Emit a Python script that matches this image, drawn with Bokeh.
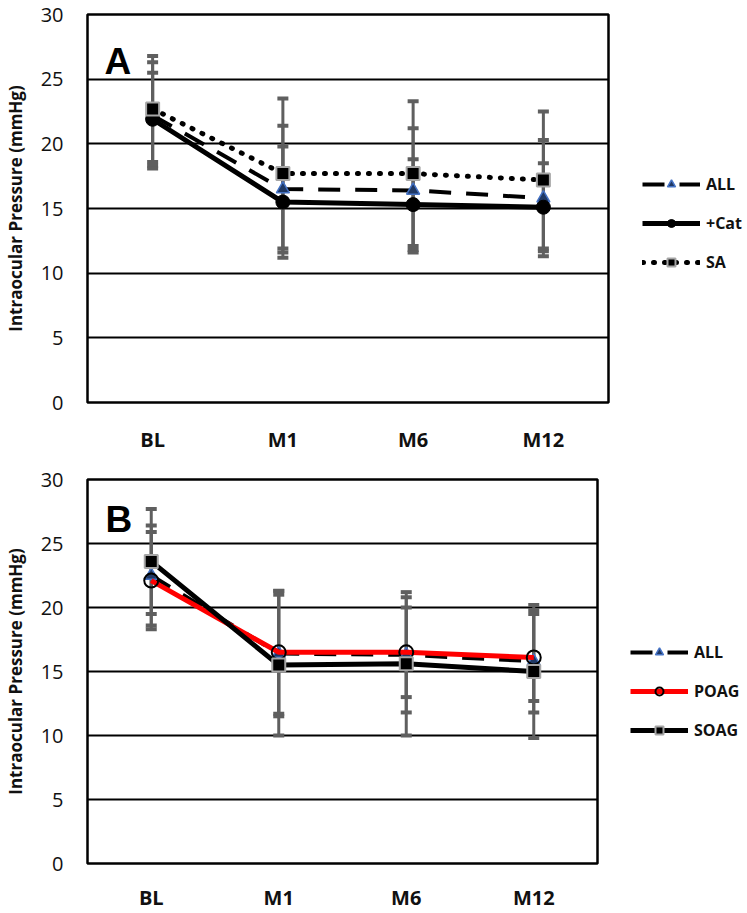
from bokeh.plotting import figure
from bokeh.models import (FactorRange, Range1d, FixedTicker, Legend, LegendItem,
                          Label)
from bokeh.layouts import column, row
from bokeh.embed import file_html
from bokeh.resources import INLINE

# ---------------- data ----------------
cats = ["BL", "M1", "M6", "M12"]
y_ticks = [0, 5, 10, 15, 20, 25, 30]

# Panel A
all_a = [22.2, 16.5, 16.4, 15.8]
all_a_sd = [4.1, 4.9, 4.8, 4.5]
cat_a = [21.9, 15.5, 15.3, 15.1]
cat_a_sd = [3.6, 4.3, 3.5, 3.4]
sa_a = [22.7, 17.7, 17.7, 17.2]
sa_a_sd = [4.1, 5.8, 5.6, 5.3]

# Panel B
all_b = [22.5, 16.4, 16.3, 15.8]
all_b_sd = [3.9, 4.9, 4.5, 4.0]
poag_b = [22.1, 16.5, 16.5, 16.1]
poag_b_sd = [3.8, 4.8, 3.5, 3.4]
soag_b = [23.6, 15.5, 15.6, 15.0]
soag_b_sd = [4.1, 5.5, 5.6, 5.2]

FONT = "Open Sans"
ERR = "#5f5f5f"
TXT = "#111111"
W = 747

# styles
ALL_LINE = dict(line_color="black", line_width=4, line_dash="22 15")
ALL_MARK = dict(marker="triangle", size=13, fill_color="#1f3864",
                line_color="#4472c4", line_width=1.5)
CAT_LINE = dict(line_color="black", line_width=5)
CAT_MARK = dict(marker="circle", size=14, fill_color="black", line_color="black")
SA_LINE = dict(line_color="black", line_width=5, line_dash="1 10", line_cap="round")
SQ_MARK = dict(marker="square", size=13, fill_color="black",
               line_color="#a6a6a6", line_width=2)
POAG_LINE = dict(line_color="#ff0000", line_width=5)
POAG_MARK = dict(marker="circle", size=14, fill_color=None, line_color="black",
                 line_width=2)
SOAG_LINE = dict(line_color="black", line_width=5)


def base_fig(height, frame_w, top, bottom):
    p = figure(width=85 + frame_w + 2, height=height,
               x_range=FactorRange(factors=cats),
               y_range=Range1d(0, 30), output_backend="svg",
               toolbar_location=None, min_border_left=85,
               min_border_right=2, min_border_top=top,
               min_border_bottom=bottom)
    p.outline_line_color = "black"
    p.outline_line_width = 2.5
    p.xgrid.grid_line_color = None
    p.ygrid.ticker = FixedTicker(ticks=y_ticks)
    p.ygrid.grid_line_color = "black"
    p.ygrid.grid_line_width = 2
    p.yaxis.ticker = FixedTicker(ticks=y_ticks)
    for ax in (p.xaxis[0], p.yaxis[0]):
        ax.axis_line_color = None
        ax.major_tick_line_color = None
        ax.minor_tick_line_color = None
        ax.major_tick_out = 0
        ax.major_tick_in = 0
    p.yaxis.major_label_text_font = FONT
    p.yaxis.major_label_text_font_size = "20px"
    p.yaxis.major_label_text_color = TXT
    p.yaxis.major_label_standoff = 24
    p.yaxis.axis_label = "Intraocular Pressure (mmHg)"
    p.yaxis.axis_label_text_font = FONT
    p.yaxis.axis_label_text_font_size = "17px"
    p.yaxis.axis_label_text_font_style = "bold"
    p.yaxis.axis_label_text_color = TXT
    p.yaxis.axis_label_standoff = 11
    p.xaxis.major_label_text_font = FONT
    p.xaxis.major_label_text_font_size = "20px"
    p.xaxis.major_label_text_font_style = "bold"
    p.xaxis.major_label_text_color = TXT
    p.background_fill_color = "white"
    p.border_fill_color = "white"
    return p


def errbars(p, vals, sds):
    lo = [v - s for v, s in zip(vals, sds)]
    hi = [v + s for v, s in zip(vals, sds)]
    p.segment(x0=cats, y0=lo, x1=cats, y1=hi, line_color=ERR, line_width=3)
    p.scatter(x=cats + cats, y=lo + hi, marker="dash", size=11,
              line_color=ERR, line_width=4)


def legend_fig(width, height, entries, x, y):
    # legend-only panel: the series are plotted outside its visible y range,
    # so only the legend swatches show.
    f = figure(width=width, height=height, x_range=FactorRange(factors=cats),
               y_range=Range1d(-200, -199), output_backend="svg",
               toolbar_location=None, min_border=0,
               x_axis_location=None, y_axis_location=None)
    f.grid.visible = False
    f.outline_line_color = None
    items = []
    for label, vals, ls, ms in entries:
        r1 = f.line(cats, vals, **ls)
        r2 = f.scatter(cats, vals, **ms)
        items.append(LegendItem(label=label, renderers=[r1, r2]))
    lg = Legend(items=items, location=(x, y), padding=0, margin=0,
                glyph_width=58, glyph_height=20, spacing=17, label_standoff=6,
                border_line_color=None, background_fill_alpha=0,
                label_text_font=FONT, label_text_font_size="16px",
                label_text_font_style="bold", label_text_color=TXT)
    f.add_layout(lg)
    return f


# ---------------- Panel A ----------------
HA = 465
pa = base_fig(HA, 523, 14, 63)
pa.xaxis.major_label_standoff = 23
errbars(pa, cat_a, cat_a_sd)
errbars(pa, all_a, all_a_sd)
errbars(pa, sa_a, sa_a_sd)
pa.line(cats, all_a, **ALL_LINE)
pa.line(cats, cat_a, **CAT_LINE)
pa.line(cats, sa_a, **SA_LINE)
pa.scatter(cats, all_a, **ALL_MARK)
pa.scatter(cats, cat_a, **CAT_MARK)
pa.scatter(cats, sa_a, **SQ_MARK)
pa.add_layout(Label(x=17, y=341, x_units="screen", y_units="screen", text="A",
                    text_font="Liberation Sans", text_font_size="37px",
                    text_font_style="bold", text_baseline="alphabetic",
                    text_color="black"))
la = legend_fig(W - pa.width, HA,
                [("ALL", all_a, ALL_LINE, ALL_MARK),
                 ("+Cat", cat_a, CAT_LINE, CAT_MARK),
                 ("SA", sa_a, SA_LINE, SQ_MARK)], 32, 129)

# ---------------- Panel B ----------------
HB = 448
pb = base_fig(HB, 512, 14, 46)
pb.xaxis.major_label_standoff = 20
errbars(pb, all_b, all_b_sd)
errbars(pb, poag_b, poag_b_sd)
errbars(pb, soag_b, soag_b_sd)
pb.line(cats, all_b, **ALL_LINE)
pb.scatter(cats, all_b, **ALL_MARK)
pb.line(cats, poag_b, **POAG_LINE)
pb.line(cats, soag_b, **SOAG_LINE)
pb.scatter(cats, poag_b, **POAG_MARK)
pb.scatter(cats, soag_b, **SQ_MARK)
pb.add_layout(Label(x=18, y=344, x_units="screen", y_units="screen", text="B",
                    text_font="Liberation Sans", text_font_size="37px",
                    text_font_style="bold", text_baseline="alphabetic",
                    text_color="black"))
lb = legend_fig(W - pb.width, HB,
                [("ALL", all_b, ALL_LINE, ALL_MARK),
                 ("POAG", poag_b, POAG_LINE, POAG_MARK),
                 ("SOAG", soag_b, SOAG_LINE, SQ_MARK)], 31, 122)

layout = column(row(pa, la), row(pb, lb))
open("out.html", "w").write(file_html(layout, INLINE))
